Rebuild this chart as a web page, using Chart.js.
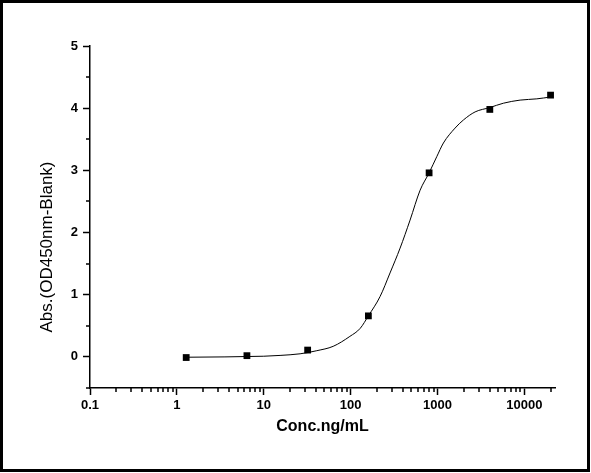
<!DOCTYPE html>
<html>
<head>
<meta charset="utf-8">
<script src="https://cdn.jsdelivr.net/npm/chart.js@4.4.1/dist/chart.umd.min.js"></script>
<style>
	body { margin: 0; background: #fff; }
	canvas { display: block; }
</style>
</head>
<body>
<canvas id="elisaChart" width="591" height="473"></canvas>
<script>
// measured standards (5-fold dilution series)
const concentrations = [1.28, 6.4, 32, 160, 800, 4000, 20000];
const absorbance = [-0.01, 0.02, 0.11, 0.66, 2.96, 3.98, 4.21];

// fitted curve
const fitConc = [1.28, 10, 15.4, 26.2, 40.8, 62.9, 98, 129, 160, 218, 284, 371, 483, 630, 800, 980, 1169, 1592, 1986, 2706, 4000, 5730, 8930, 13900, 20000];
const fitAbs = [-0.005, 0.011, 0.024, 0.05, 0.1, 0.17, 0.33, 0.46, 0.66, 0.97, 1.35, 1.75, 2.2, 2.68, 2.96, 3.22, 3.44, 3.68, 3.81, 3.94, 4.01, 4.08, 4.13, 4.15, 4.18];

// axis ticks
const xTickValues = [0.1, 1, 10, 100, 1000, 10000];
const xTickLabels = ["0.1", "1", "10", "100", "1000", "10000"];
const yTickValues = [0, 1, 2, 3, 4, 5];
const yTickLabels = ["0", "1", "2", "3", "4", "5"];
const yMinorTicks = [-0.5, 0.5, 1.5, 2.5, 3.5, 4.5];

const xTitle = "Conc.ng/mL";
const yTitle = "Abs.(OD450nm-Blank)";

const FONT = '"Liberation Sans", Arial, sans-serif';

// minor log ticks 2..9 per decade (no labels)
const xMinorTicks = [];
for (let d = 0.1; d < 20000; d *= 10) {
	for (let m = 2; m <= 9; m++) {
		const v = Math.round(m * d * 1000) / 1000;
		if (v <= 22500) xMinorTicks.push(v);
	}
}

// draws minor ticks, the y title and the outer frame
const extrasPlugin = {
	id: "extras",
	afterDraw(chart) {
		const { ctx, chartArea } = chart;
		const xs = chart.scales.x;
		const ys = chart.scales.y;
		ctx.save();
		ctx.strokeStyle = "#000";
		ctx.lineWidth = 1.5;
		ctx.beginPath();
		xMinorTicks.forEach((v) => {
			const px = Math.round(xs.getPixelForValue(v));
			ctx.moveTo(px, chartArea.bottom);
			ctx.lineTo(px, chartArea.bottom + 4);
		});
		yMinorTicks.forEach((v) => {
			const py = Math.round(ys.getPixelForValue(v));
			ctx.moveTo(chartArea.left - 4, py);
			ctx.lineTo(chartArea.left, py);
		});
		ctx.stroke();

		// y axis title
		ctx.translate(47, 247);
		ctx.rotate(-Math.PI / 2);
		ctx.fillStyle = "#000";
		ctx.font = "17px " + FONT;
		ctx.textAlign = "center";
		ctx.textBaseline = "middle";
		ctx.fillText(yTitle, 0, 0);
		ctx.restore();

		// outer frame
		ctx.save();
		ctx.strokeStyle = "#000";
		ctx.lineWidth = 3;
		ctx.strokeRect(1.5, 1.5, 587, 469);
		ctx.restore();
	},
};

const ctx = document.getElementById("elisaChart").getContext("2d");
new Chart(ctx, {
	type: "scatter",
	data: {
		datasets: [
			{
				type: "line",
				label: "fit",
				data: fitConc.map((x, i) => ({ x, y: fitAbs[i] })),
				borderColor: "#000",
				borderWidth: 1,
				pointRadius: 0,
				cubicInterpolationMode: "monotone",
				fill: false,
			},
			{
				label: "standards",
				data: concentrations.map((x, i) => ({ x, y: absorbance[i] })),
				pointStyle: "rect",
				pointRadius: 4.8,
				backgroundColor: "#000",
				borderColor: "#000",
				borderWidth: 0,
			},
		],
	},
	options: {
		responsive: false,
		animation: false,
		devicePixelRatio: 1,
		layout: { padding: { left: 0, right: 36, top: 46, bottom: 0 } },
		plugins: {
			legend: { display: false },
			tooltip: { enabled: false },
		},
		scales: {
			x: {
				type: "logarithmic",
				min: 0.1,
				max: 22500,
				afterBuildTicks: (s) => {
					s.ticks = xTickValues.map((v) => ({ value: v }));
				},
				afterFit: (s) => {
					s.height = 85;
				},
				ticks: {
					callback: (v, i) => xTickLabels[i],
					font: { family: FONT, size: 13, weight: "bold" },
					color: "#000",
					padding: 3,
					maxRotation: 0,
					autoSkip: false,
				},
				grid: {
					display: true,
					drawOnChartArea: false,
					drawTicks: true,
					tickLength: 7,
					tickWidth: 1.5,
					tickColor: "#000",
				},
				border: { display: true, color: "#000", width: 1.5 },
				title: {
					display: true,
					text: xTitle,
					color: "#000",
					font: { family: FONT, size: 16, weight: "bold" },
					padding: { top: 0, bottom: 37 },
				},
			},
			y: {
				min: -0.5,
				max: 5,
				afterBuildTicks: (s) => {
					s.ticks = yTickValues.map((v) => ({ value: v }));
				},
				afterFit: (s) => {
					s.width = 90;
				},
				ticks: {
					callback: (v, i) => yTickLabels[i],
					font: { family: FONT, size: 13, weight: "bold" },
					color: "#000",
					padding: 5,
				},
				grid: {
					display: true,
					drawOnChartArea: false,
					drawTicks: true,
					tickLength: 7,
					tickWidth: 1.5,
					tickColor: "#000",
				},
				border: { display: true, color: "#000", width: 1.5 },
			},
		},
	},
	plugins: [extrasPlugin],
});
</script>
</body>
</html>
